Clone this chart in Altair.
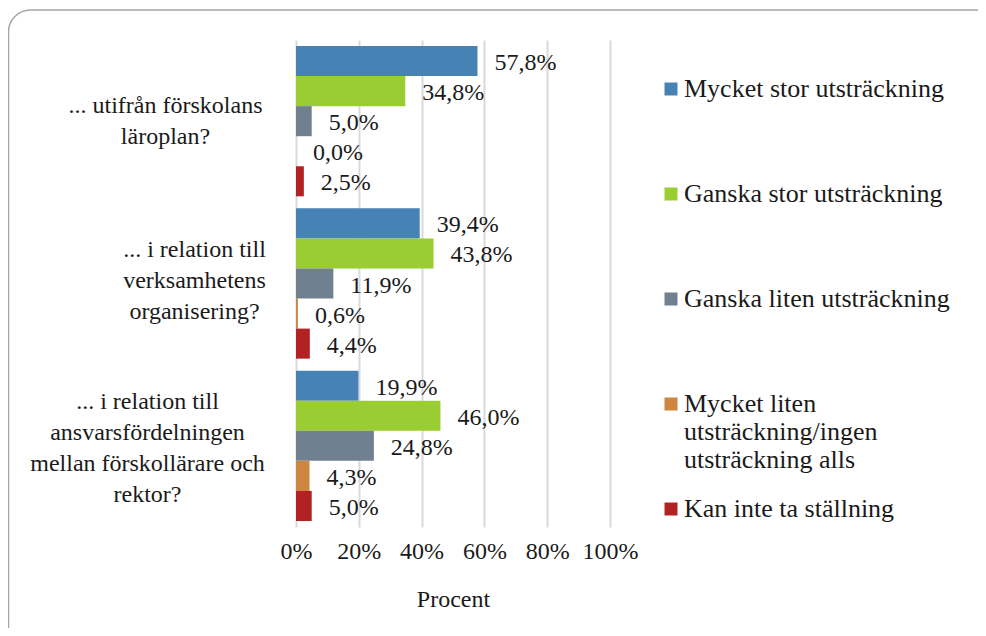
import altair as alt
import pandas as pd

FONT = "Liberation Serif"

CATEGORIES = [
    "... utifrån förskolans|läroplan?",
    "... i relation till|verksamhetens|organisering?",
    "... i relation till|ansvarsfördelningen|mellan förskollärare och|rektor?",
]
SERIES = [
    "Mycket stor utsträckning",
    "Ganska stor utsträckning",
    "Ganska liten utsträckning",
    "Mycket liten|utsträckning/ingen|utsträckning alls",
    "Kan inte ta ställning",
]
COLORS = ["#4682B4", "#9ACD32", "#708090", "#CD853F", "#B22222"]

VALUES_Q1 = [57.8, 34.8, 5.0, 0.0, 2.5]
VALUES_Q2 = [39.4, 43.8, 11.9, 0.6, 4.4]
VALUES_Q3 = [19.9, 46.0, 24.8, 4.3, 5.0]

TICKS = [0, 20, 40, 60, 80, 100]

rows = []
for cat, vals in zip(CATEGORIES, [VALUES_Q1, VALUES_Q2, VALUES_Q3]):
    for s, v in zip(SERIES, vals):
        rows.append({"Fråga": cat, "Svar": s, "Procent": v})
df = pd.DataFrame(rows)

# per-label layout of the wrapped category labels (centre of each block)
PAD_BY_KEY = [("utifrån", 131), ("verksamhetens", 102), ("ansvars", 149)]
OFF_BY_KEY = [("utifrån", -15), ("verksamhetens", -34), ("ansvars", -44)]


def cond(pairs, default):
    return {
        "condition": [
            {"test": f"indexof(datum.value, '{k}') >= 0", "value": v}
            for k, v in pairs
        ],
        "value": default,
    }


def build(use_cond):
    legend_kw = dict(
        orient="none",
        legendX=362,
        legendY=36,
        direction="vertical",
        title=None,
        symbolType="square",
        symbolSize=169,
        symbolStrokeWidth=0,
        symbolOpacity=1,
        labelFont=FONT,
        labelFontSize=26,
        labelColor="#1a1a1a",
        labelLimit=400,
        labelOffset=0,
        labelExpr="split(datum.label, '|')",
        gridAlign="all",
        rowPadding=23,
    )

    axis_kw = dict(
        title=None,
        domain=False,
        ticks=False,
        tickSize=0,
        grid=False,
        labelAlign="center",
        labelBaseline="middle",
        labelLimit=400,
        labelOverlap=False,
        labelExpr="split(datum.label, '|')",
        labelLineHeight=31,
        labelFont=FONT,
        labelFontSize=24,
        labelColor="#1a1a1a",
    )
    if use_cond:
        axis_kw["labelPadding"] = cond(PAD_BY_KEY, 131)
        axis_kw["labelOffset"] = cond(OFF_BY_KEY, -15)
    else:
        axis_kw["labelPadding"] = 131
        axis_kw["labelOffset"] = -15

    y_enc = alt.Y(
        "Fråga:N",
        sort=CATEGORIES,
        scale=alt.Scale(domain=CATEGORIES, paddingInner=0, paddingOuter=0),
        axis=alt.Axis(**axis_kw),
    )
    yoff = alt.YOffset(
        "Svar:N",
        sort=SERIES,
        scale=alt.Scale(domain=SERIES, paddingInner=0, paddingOuter=0.2),
    )
    x_enc = alt.X(
        "Procent:Q",
        scale=alt.Scale(domain=[0, 100], nice=False),
        axis=alt.Axis(
            values=TICKS,
            labelExpr="datum.value + '%'",
            labelOverlap=False,
            labelFlush=False,
            grid=True,
            gridColor="#d9d9d9",
            gridWidth=2,
            domain=False,
            ticks=False,
            labelPadding=12,
            labelFont=FONT,
            labelFontSize=24,
            labelColor="#1a1a1a",
            title="Procent",
            titleFont=FONT,
            titleFontSize=24,
            titleFontWeight="normal",
            titleColor="#1a1a1a",
            titlePadding=24,
        ),
    )

    bars = alt.Chart(df).mark_bar().encode(
        x=x_enc,
        y=y_enc,
        yOffset=yoff,
        color=alt.Color(
            "Svar:N",
            sort=SERIES,
            scale=alt.Scale(domain=SERIES, range=COLORS),
            legend=alt.Legend(**legend_kw),
        ),
    )

    labels = (
        alt.Chart(df)
        .transform_calculate(
            etikett="replace(format(datum.Procent, '.1f'), '.', ',') + '%'"
        )
        .mark_text(
            align="left", baseline="middle", dx=17, dy=2,
            font=FONT, fontSize=24, color="#1a1a1a",
        )
        .encode(
            x=alt.X("Procent:Q"),
            y=alt.Y("Fråga:N", sort=CATEGORIES),
            yOffset=alt.YOffset("Svar:N", sort=SERIES),
            text="etikett:N",
        )
    )

    frame = (
        alt.Chart(alt.Data(values=[{}]))
        .mark_rect(filled=False, stroke="#a6a6a6", strokeWidth=1.5, cornerRadius=22)
        .encode(
            x=alt.value(-287.5),
            x2=alt.value(730),
            y=alt.value(-30),
            y2=alt.value(660),
        )
    )

    chart = (
        alt.layer(frame, bars, labels)
        .properties(
            width=314,
            height=487,
            autosize=alt.AutoSizeParams(type="none"),
            padding={"left": 288, "top": 32, "right": 368, "bottom": 101},
        )
        .configure(font=FONT)
        .configure_view(stroke=None)
    )
    return chart


try:
    chart = build(True)
    chart.to_dict()
except Exception:
    chart = build(False)

chart.save("out.html", embed_options={"renderer": "svg", "actions": False})
